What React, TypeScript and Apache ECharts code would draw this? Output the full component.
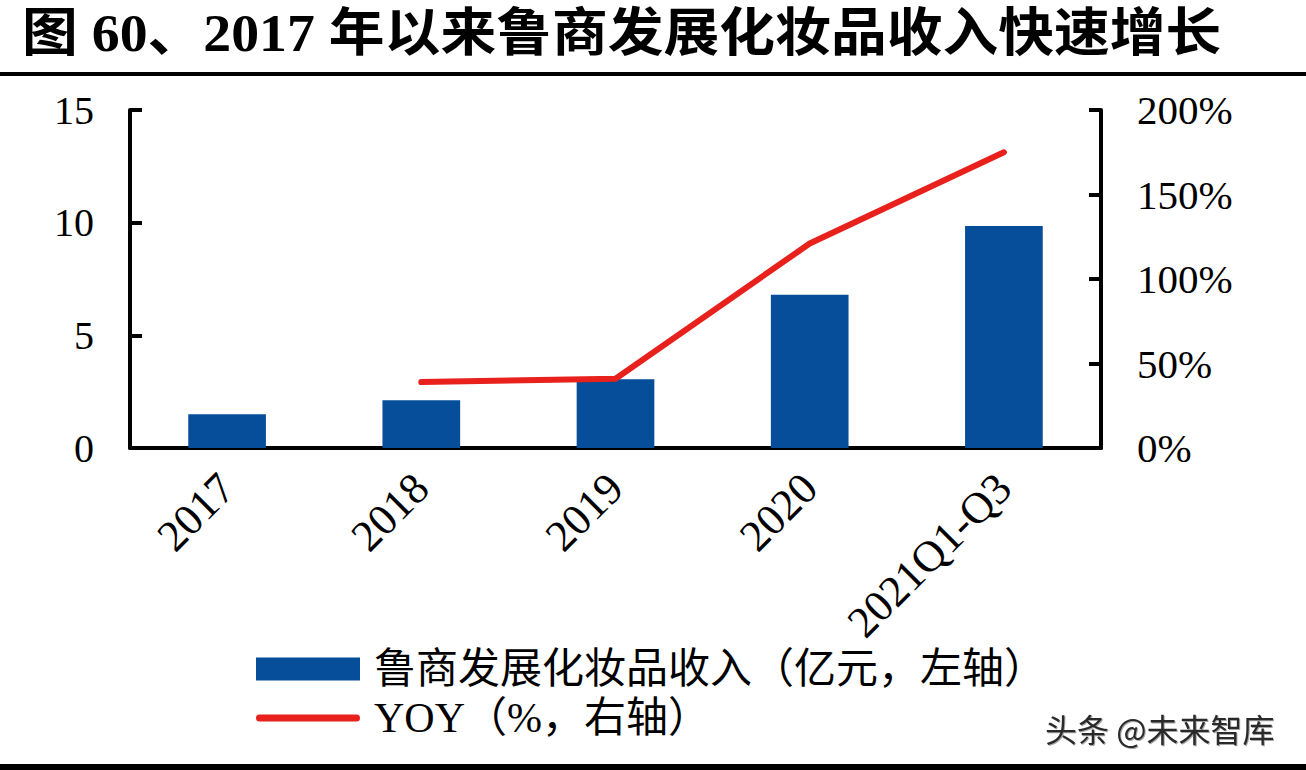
import React, { useEffect, useRef } from "react";
import * as echarts from "echarts";

const titleText = "图 60、2017 年以来鲁商发展化妆品收入快速增长";
const categories = ["2017", "2018", "2019", "2020", "2021Q1-Q3"];
const revenueName = "鲁商发展化妆品收入（亿元，左轴）";
const yoyName = "YOY（%，右轴）";
const revenue = [1.5, 2.12, 3.05, 6.8, 9.85];
const yoy: (number | string)[] = ["-", 39, 41, 121, 175];
const watermark = "头条 @未来智库";

const SERIF = "'Liberation Serif', 'Times New Roman', 'Noto Sans CJK SC', serif";
const LINE_ICON = "path://M3.5,0 H100.5 A3.5,3.5 0 0 1 100.5,7 H3.5 A3.5,3.5 0 0 1 3.5,0 Z";

export default function App() {
  const ref = useRef<HTMLDivElement>(null);
  useEffect(() => {
    if (!ref.current) return;
    const chart = echarts.init(ref.current, undefined, { renderer: "svg" });
    chart.setOption({
      animation: false,
      backgroundColor: "#ffffff",
      grid: { left: 130, right: 205, top: 110, bottom: 322, containLabel: false },
      xAxis: {
        type: "category",
        data: categories,
        axisLine: { show: true, lineStyle: { color: "#000", width: 4 } },
        axisTick: { show: false },
        axisLabel: {
          rotate: 45,
          margin: 33,
          fontSize: 44,
          fontFamily: SERIF,
          color: "#000",
          interval: 0,
        },
      },
      yAxis: [
        {
          type: "value",
          min: 0,
          max: 15,
          interval: 5,
          axisLine: { show: true, lineStyle: { color: "#000", width: 4 } },
          axisTick: { show: true, inside: true, length: 12, lineStyle: { color: "#000", width: 4 } },
          splitLine: { show: false },
          axisLabel: { fontSize: 40, fontFamily: SERIF, color: "#000", margin: 36 },
        },
        {
          type: "value",
          min: 0,
          max: 200,
          interval: 50,
          position: "right",
          axisLine: { show: true, lineStyle: { color: "#000", width: 4 } },
          axisTick: { show: true, inside: true, length: 12, lineStyle: { color: "#000", width: 4 } },
          splitLine: { show: false },
          axisLabel: { fontSize: 41, fontFamily: SERIF, color: "#000", margin: 36, formatter: "{value}%" },
        },
      ],
      legend: {
        orient: "vertical",
        left: 256,
        top: 648,
        padding: 0,
        itemWidth: 104,
        itemHeight: 23,
        itemGap: 7,
        data: [
          { name: revenueName, icon: "rect" },
          { name: yoyName, icon: LINE_ICON },
        ],
        textStyle: { fontSize: 42, fontFamily: SERIF, color: "#000", padding: [0, 0, 0, 9] },
      },
      series: [
        {
          name: revenueName,
          type: "bar",
          data: revenue,
          barWidth: "40%",
          itemStyle: { color: "#064E9A" },
        },
        {
          name: yoyName,
          type: "line",
          yAxisIndex: 1,
          data: yoy,
          symbol: "none",
          lineStyle: { color: "#E8211D", width: 6, cap: "round", join: "round" },
          itemStyle: { color: "#E8211D" },
        },
      ],
      graphic: [
        {
          type: "text",
          x: 22,
          y: 8,
          scaleX: 1.073,
          style: {
            text: titleText,
            font: `bold 52px ${SERIF}`,
            fill: "#000",
          },
        },
        { type: "rect", shape: { x: 0, y: 72, width: 1306, height: 4 }, style: { fill: "#000" } },
        { type: "rect", shape: { x: 0, y: 764, width: 1306, height: 6 }, style: { fill: "#000" } },
        {
          type: "text",
          left: 1045,
          top: 712,
          style: {
            text: watermark,
            font: "32px 'Noto Sans CJK SC', sans-serif",
            fill: "#2a2a2a",
            textShadowColor: "rgba(0,0,0,0.35)",
            textShadowOffsetX: 1,
            textShadowOffsetY: 1,
            textShadowBlur: 1,
          },
        },
      ],
    });
    return () => chart.dispose();
  }, []);
  return (
    <div
      ref={ref}
      style={{ position: "fixed", left: 0, top: 0, width: 1306, height: 770, background: "#fff" }}
    />
  );
}
